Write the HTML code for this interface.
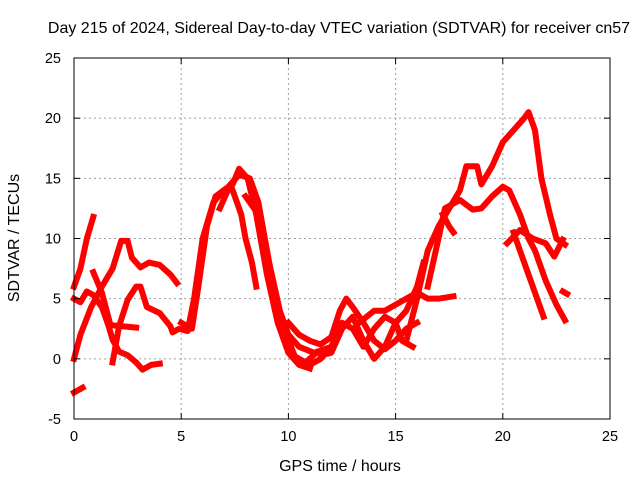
<!DOCTYPE html>
<html><head><meta charset="utf-8"><style>
html,body{margin:0;padding:0;background:#fff;}
svg{display:block;font-family:"Liberation Sans",sans-serif;}
</style></head><body>
<svg id="chart" width="640" height="480" xmlns="http://www.w3.org/2000/svg">
<text x="339" y="33" font-size="16" text-anchor="middle">Day 215 of 2024, Sidereal Day-to-day VTEC variation (SDTVAR) for receiver cn57</text>
<text x="340" y="471" font-size="16" text-anchor="middle">GPS time / hours</text>
<text x="19" y="238" font-size="16" text-anchor="middle" transform="rotate(-90 19 238)">SDTVAR / TECUs</text>
<g id="grid"></g><g id="series"></g><g id="axes"></g>
</svg>
<script>
const xTicks=[0,5,10,15,20,25];
const yTicks=[-5,0,5,10,15,20,25];
const trackA=[[0,6],[0.3,7.5],[0.6,10],[0.9,11.8]];
const trackB=[[0,-2.8],[0.4,-2.4]];
const trackC=[[0,0],[0.3,2],[0.8,4.3],[1.3,6],[1.8,7.5],[2.2,9.8],[2.5,9.8],[2.7,8.4],[3.1,7.6],[3.5,8],[4,7.8],[4.5,7],[4.8,6.3]];
const trackD=[[0,5],[0.3,4.7],[0.6,5.6],[0.9,5.3],[1.3,4.3],[1.6,2.8],[1.8,1.6],[2.1,0.6],[2.5,0.3],[2.9,-0.3],[3.2,-0.9],[3.6,-0.5],[4,-0.4]];
const trackE=[[0.9,7.2],[1.3,5.5],[1.7,2.8],[2.3,2.7],[2.9,2.6]];
const trackF=[[1.8,-0.3],[2.1,2.7],[2.5,4.9],[2.9,6],[3.1,6],[3.4,4.3],[4,3.8],[4.5,2.7],[4.6,2.2],[4.9,2.5],[5.3,2.3],[5.6,5],[6,10],[6.5,13],[7,14],[7.4,14.5],[7.7,15.8],[8.1,15],[8.5,12],[9,7],[9.5,3],[10,0.5],[10.5,-0.5],[11,-0.8]];
const trackG=[[5,3],[5.5,2.5],[5.8,6],[6.2,11],[6.6,13.5],[7.2,14.3],[7.7,15.3],[8.2,15],[8.6,13],[9.1,8],[9.6,4],[10,2],[10.5,1],[11.2,0.5],[12,1]];
const trackH=[[6.8,12.5],[7.3,14.5],[7.6,13],[7.8,12],[8,10],[8.3,8],[8.5,6]];
const trackI=[[8,13.5],[8.6,12],[9,9],[9.4,5],[9.8,2.5],[10.3,0.2],[10.8,-0.3],[11.3,0.5]];
const trackJ=[[10,3],[10.5,2],[11,1.5],[11.5,1.2],[12,1.8],[12.4,4],[12.7,5],[13,4.3],[13.5,3],[14,1.5],[14.5,0.8],[15,1.5],[15.5,2.5],[16,3]];
const trackK=[[11.5,0.3],[12,0.5],[12.5,2.5],[13,3.5],[13.5,1.5],[14,0],[14.5,1],[15,3],[15.5,4],[16,6],[16.3,8]];
const trackL=[[13.3,3],[14,4],[14.5,4],[15,4.5],[15.5,5],[16,5.5],[16.5,5],[17,5],[17.7,5.2]];
const trackM=[[11,-0.5],[11.5,0],[12,1],[12.5,3],[13,2.5],[13.5,1],[14,2.5],[14.5,3.5],[15,3],[15.3,1.5],[15.8,1]];
const trackN=[[15.5,1.5],[16,5],[16.5,9],[17,11],[17.5,12.5],[18,14],[18.3,16],[18.8,16],[19,14.5],[19.5,16],[20,18],[20.5,19],[21,20],[21.2,20.5],[21.5,19],[21.8,15],[22.2,12],[22.5,10],[22.9,9.5]];
const trackO=[[16.5,6],[17,10],[17.3,12.5],[18,13.2],[18.6,12.4],[19,12.5],[19.5,13.5],[20,14.3],[20.3,14],[20.8,12],[21.2,10],[21.5,9],[22,6.5],[22.5,4.5],[22.9,3.2]];
const trackP=[[17.2,12],[17.5,11],[17.7,10.5]];
const trackQ=[[20.2,9.6],[20.8,10.7],[21.4,10],[22,9.6],[22.4,8.5],[22.8,9.9]];
const trackR=[[20.5,10.5],[21,8],[21.5,5.5],[21.9,3.5]];
const trackS=[[22.8,5.6],[23,5.4]];
const tracks=[trackA,trackB,trackC,trackD,trackE,trackF,trackG,trackH,trackI,trackJ,trackK,trackL,trackM,trackN,trackO,trackP,trackQ,trackR,trackS];
const X0=74,X1=610,Y0=419,Y1=58,xMin=0,xMax=25,yMin=-5,yMax=25;
const sx=v=>X0+(v-xMin)/(xMax-xMin)*(X1-X0);
const sy=v=>Y0-(v-yMin)/(yMax-yMin)*(Y0-Y1);
const NS='http://www.w3.org/2000/svg';
function mk(tag,attrs,parent){const e=document.createElementNS(NS,tag);for(const k in attrs)e.setAttribute(k,attrs[k]);parent.appendChild(e);return e;}
const grid=document.getElementById('grid'),series=document.getElementById('series'),axes=document.getElementById('axes');
xTicks.forEach(t=>{
  if(t>xMin&&t<xMax){const g=mk('line',{x1:sx(t),x2:sx(t),y1:Y1,y2:Y0,stroke:'#a0a0a0','stroke-dasharray':'2,3'},grid);
  
  }
  mk('line',{x1:sx(t),x2:sx(t),y1:Y0,y2:Y0-6,stroke:'#000'},axes);
  mk('line',{x1:sx(t),x2:sx(t),y1:Y1,y2:Y1+6,stroke:'#000'},axes);
  const l=mk('text',{x:sx(t),y:Y0+22,'font-size':14.5,'text-anchor':'middle'},axes);l.textContent=t;
  
  
});
yTicks.forEach(t=>{
  if(t>yMin&&t<yMax){const g=mk('line',{x1:X0,x2:X1,y1:sy(t),y2:sy(t),stroke:'#a0a0a0','stroke-dasharray':'2,3'},grid);
  
  }
  mk('line',{x1:X0,x2:X0+6,y1:sy(t),y2:sy(t),stroke:'#000'},axes);
  mk('line',{x1:X1,x2:X1-6,y1:sy(t),y2:sy(t),stroke:'#000'},axes);
  const l=mk('text',{x:X0-13,y:sy(t)+5,'font-size':14.5,'text-anchor':'end'},axes);l.textContent=t;
  
  
});
const fr=mk('rect',{x:X0,y:Y1,width:X1-X0,height:Y0-Y1,fill:'none',stroke:'#000'},axes);


tracks.forEach(tr=>{
  const p=mk('polyline',{points:tr.map(d=>sx(d[0])+','+sy(d[1])).join(' '),fill:'none',stroke:'#ff0000','stroke-width':6,'stroke-linejoin':'round','stroke-linecap':'square'},series);
  
  
});
</script>
</body></html>
